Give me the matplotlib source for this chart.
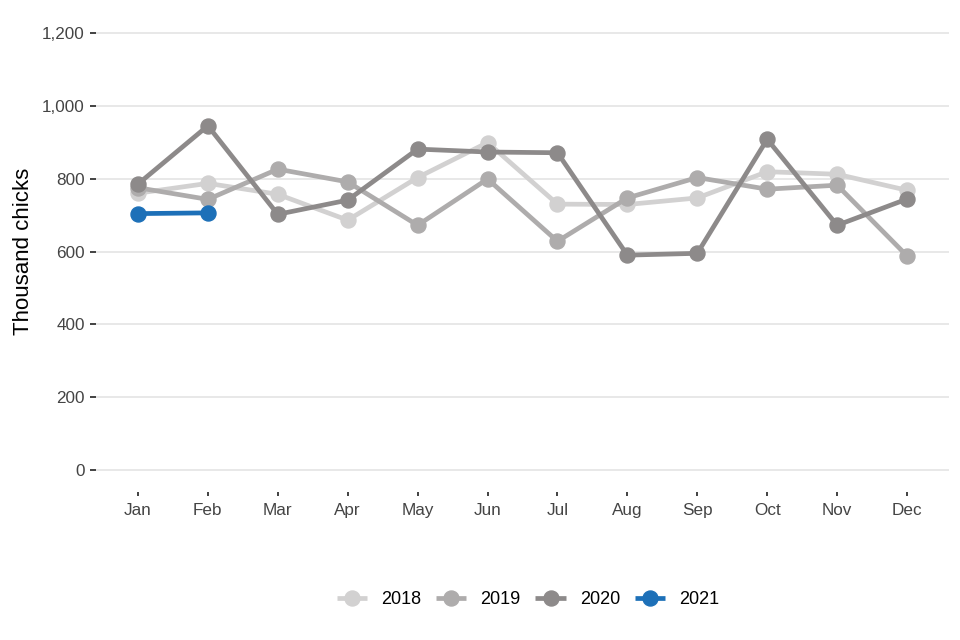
import matplotlib
matplotlib.use("Agg")
import matplotlib.pyplot as plt
from matplotlib.ticker import FuncFormatter

plt.rcParams['font.family'] = ['Liberation Sans', 'DejaVu Sans']

months = ["Jan", "Feb", "Mar", "Apr", "May", "Jun", "Jul", "Aug", "Sep", "Oct", "Nov", "Dec"]
v2018 = [760, 787, 757, 686, 803, 899, 730, 729, 747, 819, 812, 768]
v2019 = [775, 743, 826, 791, 672, 799, 628, 747, 803, 771, 782, 588]
v2020 = [785, 945, 702, 741, 881, 873, 871, 590, 595, 908, 672, 744]
v2021 = [704, 706]

series = [("2018", v2018, "#d2d1d1"),
          ("2019", v2019, "#aeacac"),
          ("2020", v2020, "#8d8a8a"),
          ("2021", v2021, "#1d70b8")]

fig = plt.figure(figsize=(9.6, 6.4), dpi=100)
ax = fig.add_axes([96/960, 1-492/640, (949-96)/960, (492-11)/640])

x_all = list(range(len(months)))
for name, vals, col in series:
    ax.plot(x_all[:len(vals)], vals, color=col, lw=3.4, marker='o', ms=10.8,
            label=name, solid_capstyle='butt')

ax.set_xlim(-0.6, 11.6)
ax.set_ylim(-60, 1260)
ax.set_xticks(x_all)
ax.set_xticklabels(months)
ax.set_yticks(range(0, 1201, 200))
ax.yaxis.set_major_formatter(FuncFormatter(lambda v, p: f"{int(v):,}"))
ax.grid(axis='y', color='#e6e6e6', lw=1.3)
ax.grid(axis='x', visible=False)
ax.set_axisbelow(True)
for s in ax.spines.values():
    s.set_visible(False)
ax.tick_params(axis='y', length=4.5, width=1.3, color='#333333', labelsize=12.3, labelcolor='#444444', pad=3.5)
ax.tick_params(axis='x', length=3, width=1.3, color='#333333', labelsize=12.3, labelcolor='#444444', pad=5)
ax.set_ylabel("Thousand chicks", fontsize=16, color='black', labelpad=6)

leg = fig.legend(loc='center', bbox_to_anchor=(528/960, 1-600/640), ncol=4, frameon=False,
                 fontsize=13, handlelength=1.67, columnspacing=0.83, handletextpad=0.78)

fig.savefig("out.png", dpi=100, facecolor='white')
